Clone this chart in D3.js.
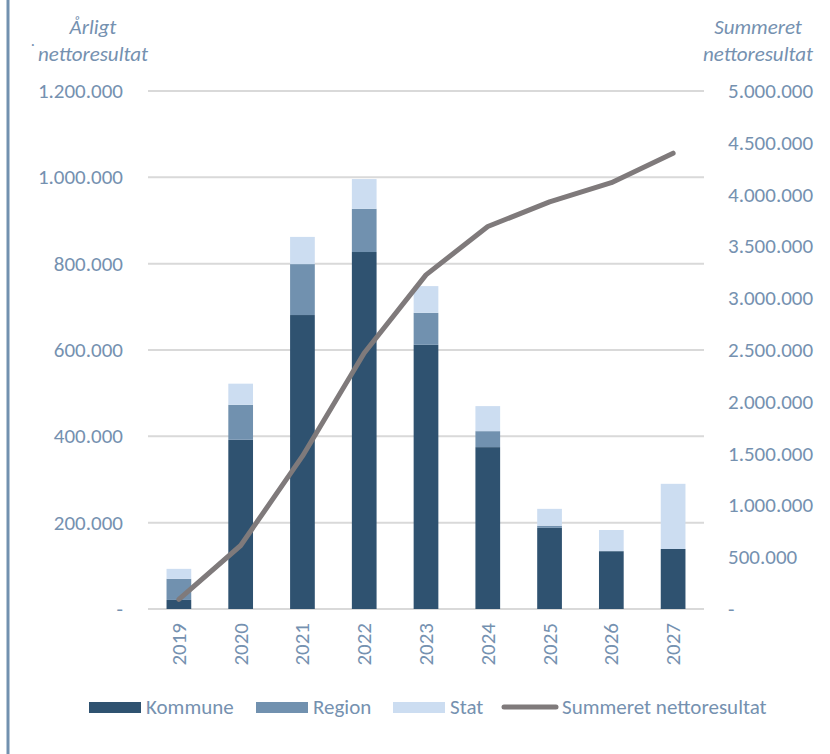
<!DOCTYPE html>
<html>
<head>
<meta charset="utf-8">
<script src="https://cdn.jsdelivr.net/npm/d3@7"></script>
<style>
  body { margin: 0; background: #fff; }
  svg text { font-family: Carlito, Calibri, 'Liberation Sans', sans-serif; fill: #7591B0; }
</style>
</head>
<body>
<svg id="chart" width="830" height="754"></svg>
<script>
const width = 830;
const height = 754;

// data
const years = ['2019', '2020', '2021', '2022', '2023', '2024', '2025', '2026', '2027'];
const kommune = [21000, 392000, 681000, 827000, 612000, 375000, 188000, 134000, 139000];
const region = [49000, 81000, 118000, 100000, 74000, 37000, 5000, 0, 0];
const stat = [23000, 49000, 63000, 69000, 62000, 58000, 39000, 49000, 151000];
const summeret = [92000, 613000, 1475000, 2471000, 3225000, 3692000, 3930000, 4115000, 4400000];

const leftTicks = [0, 200000, 400000, 600000, 800000, 1000000, 1200000];
const rightTicks = [0, 500000, 1000000, 1500000, 2000000, 2500000, 3000000, 3500000, 4000000, 4500000, 5000000];
const seriesNames = ['Kommune', 'Region', 'Stat'];
const colors = ['#2F5270', '#7191AF', '#CCDDF1'];
const lineColor = '#7F7A7B';

const plot = { left: 148, right: 704, top: 91, bottom: 609 };
const fontSize = 21;

const svg = d3.select('#chart');

// left frame line
svg.append('line')
   .attr('x1', 8).attr('x2', 8)
   .attr('y1', 0).attr('y2', height)
   .attr('stroke', '#7291AF')
   .attr('stroke-width', 3);

const x = d3.scaleBand()
            .domain(years)
            .range([plot.left, plot.right])
            .paddingInner(0.6)
            .paddingOuter(0.3);

const yLeft = d3.scaleLinear().domain([0, 1200000]).range([plot.bottom, plot.top]);
const yRight = d3.scaleLinear().domain([0, 5000000]).range([plot.bottom, plot.top]);

const fmt = (v) => v === 0 ? '-' : d3.format(',')(v).replace(/,/g, '.');

// gridlines
svg.append('g')
   .selectAll('line')
   .data(leftTicks)
   .enter()
   .append('line')
   .attr('x1', plot.left)
   .attr('x2', plot.right)
   .attr('y1', (d) => yLeft(d))
   .attr('y2', (d) => yLeft(d))
   .attr('stroke', '#D9D9D9')
   .attr('stroke-width', 2);

// left axis labels
svg.append('g')
   .selectAll('text')
   .data(leftTicks)
   .enter()
   .append('text')
   .attr('x', 123)
   .attr('y', (d) => yLeft(d) + 7)
   .attr('text-anchor', 'end')
   .attr('font-size', fontSize)
   .text(fmt);

// right axis labels
svg.append('g')
   .selectAll('text')
   .data(rightTicks)
   .enter()
   .append('text')
   .attr('x', 728)
   .attr('y', (d) => yRight(d) + 7)
   .attr('text-anchor', 'start')
   .attr('font-size', fontSize)
   .text(fmt);

// stacked bars
const rows = years.map((y, i) => ({ year: y, Kommune: kommune[i], Region: region[i], Stat: stat[i] }));
const stacked = d3.stack().keys(seriesNames)(rows);

svg.append('g')
   .selectAll('g')
   .data(stacked)
   .enter()
   .append('g')
   .attr('fill', (d, i) => colors[i])
   .selectAll('rect')
   .data((d) => d)
   .enter()
   .append('rect')
   .attr('x', (d) => x(d.data.year))
   .attr('width', x.bandwidth())
   .attr('y', (d) => yLeft(d[1]))
   .attr('height', (d) => yLeft(d[0]) - yLeft(d[1]));

// summed line
const line = d3.line()
               .x((d, i) => x(years[i]) + x.bandwidth() / 2)
               .y((d) => yRight(d));

svg.append('path')
   .datum(summeret)
   .attr('d', line)
   .attr('fill', 'none')
   .attr('stroke', lineColor)
   .attr('stroke-width', 5)
   .attr('stroke-linejoin', 'round')
   .attr('stroke-linecap', 'round');

// year labels, rotated
svg.append('g')
   .selectAll('text')
   .data(years)
   .enter()
   .append('text')
   .attr('transform', (d) => 'translate(' + (x(d) + x.bandwidth() / 2 + 7) + ',623) rotate(-90)')
   .attr('text-anchor', 'end')
   .attr('font-size', fontSize)
   .text((d) => d);

// axis titles
const titles = [
  { text: 'Årligt', x: 93, y: 34 },
  { text: 'nettoresultat', x: 93, y: 61 },
  { text: 'Summeret', x: 758, y: 34 },
  { text: 'nettoresultat', x: 758, y: 61 }
];
svg.append('g')
   .selectAll('text')
   .data(titles)
   .enter()
   .append('text')
   .attr('x', (d) => d.x)
   .attr('y', (d) => d.y)
   .attr('text-anchor', 'middle')
   .attr('font-size', fontSize)
   .attr('font-style', 'italic')
   .text((d) => d.text);

svg.append('text')
   .attr('x', 31).attr('y', 55)
   .attr('font-size', 16)
   .text('˙');

// legend
const legendItems = [
  { name: 'Kommune', color: colors[0], x: 89, type: 'rect' },
  { name: 'Region', color: colors[1], x: 256, type: 'rect' },
  { name: 'Stat', color: colors[2], x: 393, type: 'rect' },
  { name: 'Summeret nettoresultat', color: lineColor, x: 504, type: 'line' }
];
const legend = svg.append('g')
                  .selectAll('g')
                  .data(legendItems)
                  .enter()
                  .append('g')
                  .attr('transform', (d) => 'translate(' + d.x + ',707)');

legend.filter((d) => d.type === 'rect')
      .append('rect')
      .attr('x', 0).attr('y', -5)
      .attr('width', 52).attr('height', 11)
      .attr('fill', (d) => d.color);

legend.filter((d) => d.type === 'line')
      .append('line')
      .attr('x1', 0).attr('x2', 52)
      .attr('y1', 0).attr('y2', 0)
      .attr('stroke', (d) => d.color)
      .attr('stroke-width', 5)
      .attr('stroke-linecap', 'round');

legend.append('text')
      .attr('x', (d) => d.type === 'line' ? 58 : 57)
      .attr('y', 7)
      .attr('font-size', fontSize)
      .text((d) => d.name);
</script>
</body>
</html>
